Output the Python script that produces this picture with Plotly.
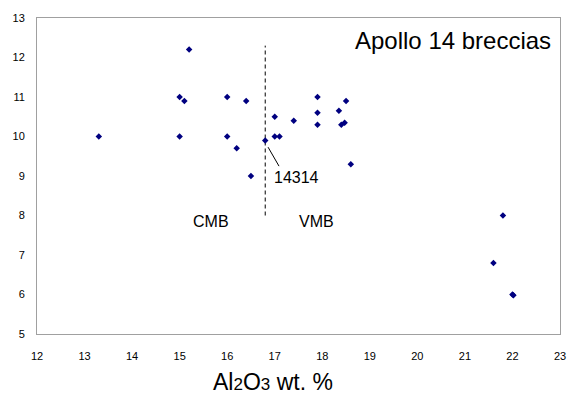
import plotly.graph_objects as go

# Data (Al2O3 wt.% vs. y value)
al2o3 = [13.3, 15.2, 15.0, 15.1, 15.0, 16.0, 16.4, 16.0, 16.2, 16.5, 16.8,
         17.0, 17.0, 17.1, 17.4, 17.9, 17.9, 17.9, 18.35, 18.5, 18.4, 18.47,
         18.6, 21.8, 21.6, 22.0, 22.02]
yvals = [10.0, 12.2, 11.0, 10.9, 10.0, 11.0, 10.9, 10.0, 9.7, 9.0, 9.9,
         10.5, 10.0, 10.0, 10.4, 11.0, 10.6, 10.3, 10.65, 10.9, 10.3, 10.35,
         9.3, 8.0, 6.8, 6.0, 5.98]

x_ticks = list(range(12, 24))
y_ticks = list(range(5, 14))

divider_x = [16.8, 16.8]
divider_y = [8.0, 12.3]

leader_x = [16.86, 17.09]
leader_y = [9.73, 9.25]

FONT = "Arial, Liberation Sans, sans-serif"

fig = go.Figure()

fig.add_trace(go.Scatter(
    x=divider_x, y=divider_y, mode="lines",
    line=dict(color="black", width=1, dash="4px,3px"),
    hoverinfo="skip", showlegend=False))

fig.add_trace(go.Scatter(
    x=leader_x, y=leader_y, mode="lines",
    line=dict(color="black", width=1),
    hoverinfo="skip", showlegend=False))

fig.add_trace(go.Scatter(
    x=al2o3, y=yvals, mode="markers",
    marker=dict(symbol="diamond", size=5, color="#000080"),
    showlegend=False))

fig.add_annotation(x=22.86, y=12.44, text="Apollo 14 breccias", showarrow=False,
                   xanchor="right", yanchor="middle",
                   font=dict(family=FONT, size=24, color="black"))
fig.add_annotation(x=17.45, y=8.95, text="14314", showarrow=False,
                   xanchor="center", yanchor="middle",
                   font=dict(family=FONT, size=16, color="black"))
fig.add_annotation(x=15.66, y=7.86, text="CMB", showarrow=False,
                   xanchor="center", yanchor="middle",
                   font=dict(family=FONT, size=16, color="black"))
fig.add_annotation(x=17.87, y=7.86, text="VMB", showarrow=False,
                   xanchor="center", yanchor="middle",
                   font=dict(family=FONT, size=16, color="black"))
fig.add_annotation(xref="paper", yref="paper", x=0.452, y=-0.152,
                   text="Al<span style='font-size:17px'>2</span>O<span style='font-size:17px'>3</span> wt. %",
                   showarrow=False, xanchor="center", yanchor="middle",
                   font=dict(family=FONT, size=23, color="black"))

axis_common = dict(showgrid=False, zeroline=False, showline=True, mirror=True,
                   linecolor="#a0a0a0", linewidth=1, ticks="", automargin=False,
                   tickfont=dict(family=FONT, size=11, color="black"))

fig.update_xaxes(range=[12, 23], tickvals=x_ticks, ticklabelstandoff=12, **axis_common)
fig.update_yaxes(range=[5, 13], tickvals=y_ticks, ticklabelstandoff=9, **axis_common)

fig.update_layout(width=569, height=394,
                  margin=dict(l=37, r=9, t=18, b=60, autoexpand=False),
                  plot_bgcolor="white", paper_bgcolor="white",
                  font=dict(family=FONT))

fig.write_html("out.html", config={"displayModeBar": False},
               post_script="document.body.style.margin='0';document.body.style.overflow='hidden';")
